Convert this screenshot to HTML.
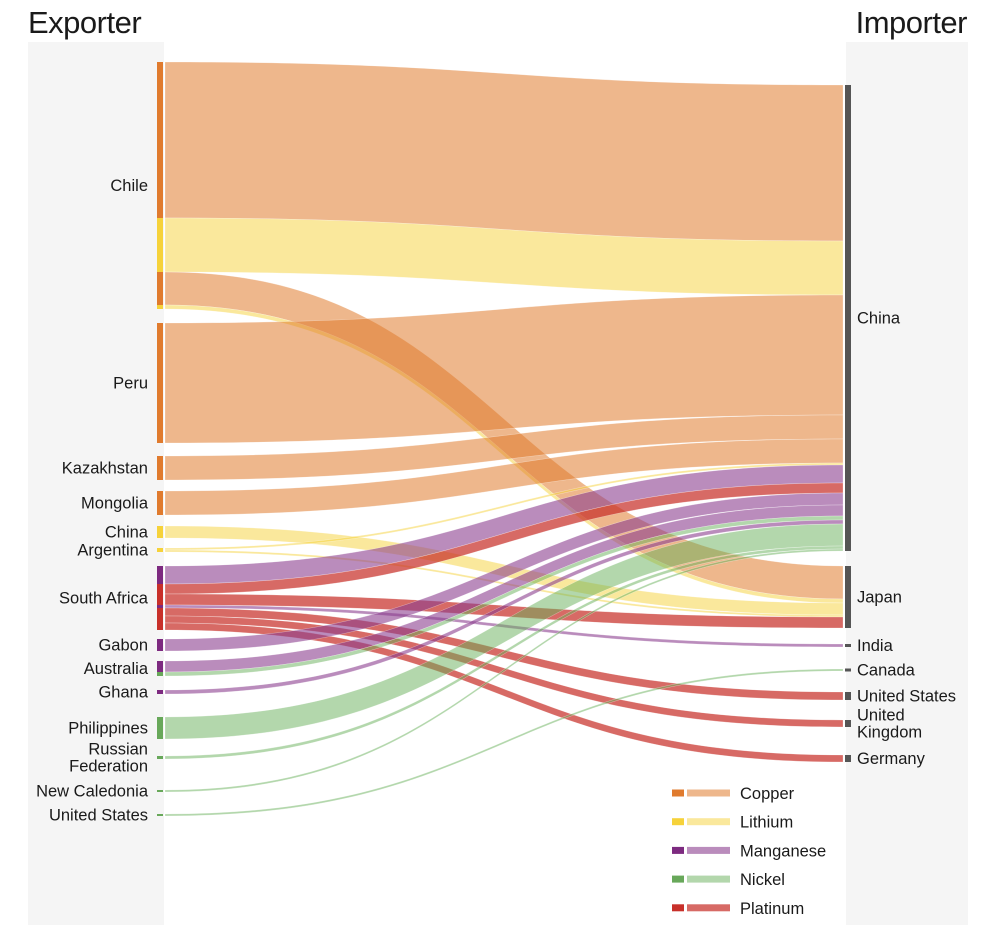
<!DOCTYPE html>
<html><head><meta charset="utf-8">
<style>
body{margin:0;background:#fff;font-family:"Liberation Sans",sans-serif;}
svg{display:block}
</style></head>
<body>
<svg id="chart" width="1000" height="925" xmlns="http://www.w3.org/2000/svg">
<rect x="28" y="42" width="136" height="883" fill="#f5f5f5"/>
<rect x="846" y="42" width="122" height="883" fill="#f5f5f5"/>
<text x="28" y="33" font-size="31" fill="#1a1a1a" letter-spacing="-0.5">Exporter</text>
<text x="967" y="33" font-size="31" fill="#1a1a1a" text-anchor="end" letter-spacing="-0.5">Importer</text>
<g id="links"></g>
<g id="nodes"></g>
<g id="legend"></g>
</svg>
<script>
const exporters = ["Chile","Peru","Kazakhstan","Mongolia","China","Argentina","South Africa","Gabon","Australia","Ghana","Philippines","Russian\nFederation","New Caledonia","United States"];
const importers = ["China","Japan","India","Canada","United States","United\nKingdom","Germany"];
const minerals = ["Copper","Lithium","Manganese","Nickel","Platinum"];
// flows: [exporter index, importer index, mineral index]
const linkSources = [0,0,0,0, 1, 2, 3, 4, 5,5, 6,6,6,6,6,6,6, 7, 8,8, 9, 10, 11, 12, 13];
const linkTargets = [0,0,1,1, 0, 0, 0, 1, 0,1, 0,0,1,2,4,5,6, 0, 0,0, 0, 0, 0, 0, 3];
const linkMinerals= [0,1,0,1, 0, 0, 0, 1, 1,1, 2,4,4,2,4,4,4, 2, 2,3, 2, 3, 3, 3, 3];
const linkValues  = [156,54,33,4, 120, 24, 24, 12, 2,2, 18,10,11,3,8,7,7, 12, 11,4, 4, 22, 3, 2, 2];

// layout config
const nodeColors=["#e07b2e","#f6d23a","#7d2a80","#68a85a","#c8302a"];
const linkColors=["#e07b2e","#f6d23a","#8c3f90","#68b05a","#c8302a"];
const linkOpacity=[0.55,0.5,0.6,0.5,0.72];
const leftStart=62, leftGaps=[0,14,13,11,11,10,14,9,10,14,23,17,31,22];
const rightStart=85, rightGaps=[0,15,16,22,21,20,28];
const xL0=157,xL1=163,xR0=845,xR1=851;
const NS="http://www.w3.org/2000/svg";
function mk(tag,attrs,parent){const e=document.createElementNS(NS,tag);for(const k in attrs)e.setAttribute(k,attrs[k]);parent.appendChild(e);return e;}

const n=linkValues.length;
const srcTot=exporters.map(()=>0), tgtTot=importers.map(()=>0);
for(let i=0;i<n;i++){srcTot[linkSources[i]]+=linkValues[i];tgtTot[linkTargets[i]]+=linkValues[i];}
const srcY=[],tgtY=[];
let y=leftStart;exporters.forEach((_,i)=>{y+=leftGaps[i];srcY.push(y);y+=srcTot[i];});
y=rightStart;importers.forEach((_,i)=>{y+=rightGaps[i];tgtY.push(y);y+=tgtTot[i];});
const s0=[],t0=[];
const sOff=srcY.slice();
for(let i=0;i<n;i++){s0[i]=sOff[linkSources[i]];sOff[linkSources[i]]+=linkValues[i];}
const order=[...Array(n).keys()].sort((a,b)=>linkSources[a]-linkSources[b]||a-b);
const tOff=tgtY.slice();
order.forEach(i=>{t0[i]=tOff[linkTargets[i]];tOff[linkTargets[i]]+=linkValues[i];});

const gL=document.getElementById('links'),gN=document.getElementById('nodes'),gLg=document.getElementById('legend');
const xa=xL1+2,xb=xR0-2,xm=(xa+xb)/2;
for(let i=0;i<n;i++){
  const v=linkValues[i],a=s0[i],b=t0[i];
  const d=`M${xa},${a}C${xm},${a} ${xm},${b} ${xb},${b}L${xb},${b+v}C${xm},${b+v} ${xm},${a+v} ${xa},${a+v}Z`;
  const p=mk('path',{d:d,fill:linkColors[linkMinerals[i]],'fill-opacity':linkOpacity[linkMinerals[i]],stroke:'#fff','stroke-width':0.4,'stroke-opacity':0.6},gL);
  
  
  const r=mk('rect',{x:xL0,y:a,width:xL1-xL0,height:v,fill:nodeColors[linkMinerals[i]]},gN);
  
  
}
function label(txt,x,cy,anchor,parent){
  const lines=txt.split('\n');const lh=17;
  const t=mk('text',{x:x,y:cy-(lines.length-1)*lh/2+5.5,'font-size':16.5,fill:'#1a1a1a','text-anchor':anchor},parent);
  lines.forEach((ln,k)=>{const s=mk('tspan',{x:x,dy:k?lh:0},t);s.textContent=ln;});
  return t;
}
exporters.forEach((name,i)=>{
  const t=label(name,148,srcY[i]+srcTot[i]/2,'end',gN);
  
  
});
importers.forEach((name,i)=>{
  const h=Math.max(tgtTot[i],3);
  const r=mk('rect',{x:xR0,y:tgtY[i]+tgtTot[i]/2-h/2,width:xR1-xR0,height:h,fill:'#555'},gN);
  
  
  const t=label(name,857,tgtY[i]+tgtTot[i]/2,'start',gN);
  
  
});
minerals.forEach((m,i)=>{
  const yy=793+i*28.7;
  const g=mk('g',{},gLg);
  
  
  mk('rect',{x:672,y:yy-3.5,width:12,height:7,fill:nodeColors[i]},g);
  mk('rect',{x:687,y:yy-3.5,width:43,height:7,fill:linkColors[i],'fill-opacity':linkOpacity[i]},g);
  const t=mk('text',{x:740,y:yy+6,'font-size':16.5,fill:'#1a1a1a'},g);
  t.textContent=m;
});
</script>
</body></html>
